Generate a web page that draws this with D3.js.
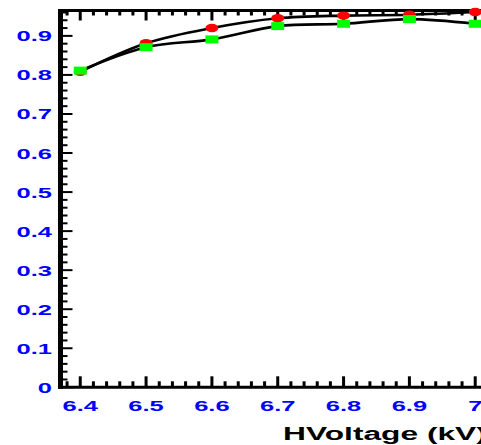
<!DOCTYPE html>
<html><head><meta charset="utf-8">
<script src="https://cdn.jsdelivr.net/npm/d3@7"></script>
<style>html,body{margin:0;padding:0;background:#fff;overflow:hidden}</style>
</head><body>
<svg id="c" width="481" height="445"></svg>
<script>
const voltages = [6.4, 6.5, 6.6, 6.7, 6.8, 6.9, 7.0];
const redSeries = [0.808, 0.881, 0.920, 0.945, 0.952, 0.954, 0.961];
const greenSeries = [0.811, 0.871, 0.891, 0.925, 0.931, 0.943, 0.931];
const xTickLabels = ["6.4", "6.5", "6.6", "6.7", "6.8", "6.9", "7"];
const yTickLabels = ["0", "0.1", "0.2", "0.3", "0.4", "0.5", "0.6", "0.7", "0.8", "0.9"];
const xTitle = "HVoltage (kV)";

const SX = 1.7; // horizontal stretch of the original picture
const svg = d3.select("#c");
const x = d3.scaleLinear().domain([6.37, 7.03]).range([60.5, 60.5 + 0.66 * 658.3]);
const y = d3.scaleLinear().domain([0, 0.965]).range([387.3, 10.5]);
const fLeft = x.range()[0], fRight = x.range()[1];
const fTop = y.range()[1], fBottom = y.range()[0];
const font = "'Liberation Sans', Arial, Helvetica, sans-serif";

const xMinor = d3.range(0, 34).map(i => 6.38 + i * 0.02).filter(v => v < 7.03);
const xMajor = xTickLabels.map(Number);
const yMinor = d3.range(0, 49).map(i => i * 0.02).filter(v => v < 0.965);
const yMajor = yTickLabels.map(Number);
const isMajor = (v, arr) => arr.some(m => Math.abs(m - v) < 1e-6);

const ax = svg.append("g").attr("stroke", "#000");
xMinor.forEach(v => {
  const L = isMajor(v, xMajor) ? 11 : 6;
  ax.append("line").attr("x1", x(v)).attr("x2", x(v)).attr("y1", fBottom).attr("y2", fBottom - L).attr("stroke-width", 3);
  ax.append("line").attr("x1", x(v)).attr("x2", x(v)).attr("y1", fTop).attr("y2", fTop + L - 1).attr("stroke-width", 3);
});
yMinor.forEach(v => {
  const L = isMajor(v, yMajor) ? 12 : 7;
  ax.append("line").attr("x1", fLeft).attr("x2", fLeft + L).attr("y1", y(v)).attr("y2", y(v)).attr("stroke-width", 2);
});
ax.append("line").attr("x1", fLeft - 2.5).attr("x2", fRight).attr("y1", fTop).attr("y2", fTop).attr("stroke-width", 3);
ax.append("line").attr("x1", fLeft - 2.5).attr("x2", fRight).attr("y1", fBottom).attr("y2", fBottom).attr("stroke-width", 3);
ax.append("line").attr("x1", fLeft).attr("x2", fLeft).attr("y1", fTop - 1.5).attr("y2", fBottom + 1.5).attr("stroke-width", 5);

xTickLabels.forEach(t => {
  svg.append("g").attr("transform", `translate(${x(+t)},411) scale(${SX},1)`)
    .append("text").attr("text-anchor", "middle").attr("font-family", font)
    .attr("font-weight", "bold").attr("font-size", 15).attr("fill", "#0000ff").text(t);
});
yTickLabels.forEach(t => {
  svg.append("g").attr("transform", `translate(52,${y(+t) + 5.5}) scale(${SX},1)`)
    .append("text").attr("text-anchor", "end").attr("font-family", font)
    .attr("font-weight", "bold").attr("font-size", 15).attr("fill", "#0000ff").text(t);
});
svg.append("g").attr("transform", `translate(283,440) scale(1.67,1)`)
  .append("text").attr("text-anchor", "start").attr("font-family", font)
  .attr("font-weight", "bold").attr("font-size", 19).attr("fill", "#000").text(xTitle);

const line = d3.line().x(d => x(d[0])).y(d => y(d[1])).curve(d3.curveCatmullRom.alpha(0.5));
const redPts = voltages.map((v, i) => [v, redSeries[i]]);
const greenPts = voltages.map((v, i) => [v, greenSeries[i]]);
[redPts, greenPts].forEach(p => svg.append("path").attr("d", line(p))
  .attr("fill", "none").attr("stroke", "#000").attr("stroke-width", 2.6));

svg.append("g").selectAll("ellipse").data(redPts).join("ellipse")
  .attr("cx", d => x(d[0])).attr("cy", d => y(d[1])).attr("rx", 6.5).attr("ry", 4.2).attr("fill", "#ff0000");
svg.append("g").selectAll("rect").data(greenPts).join("rect")
  .attr("x", d => x(d[0]) - 6.5).attr("y", d => y(d[1]) - 4).attr("width", 13).attr("height", 8).attr("fill", "#00ff00");
</script>
</body></html>
